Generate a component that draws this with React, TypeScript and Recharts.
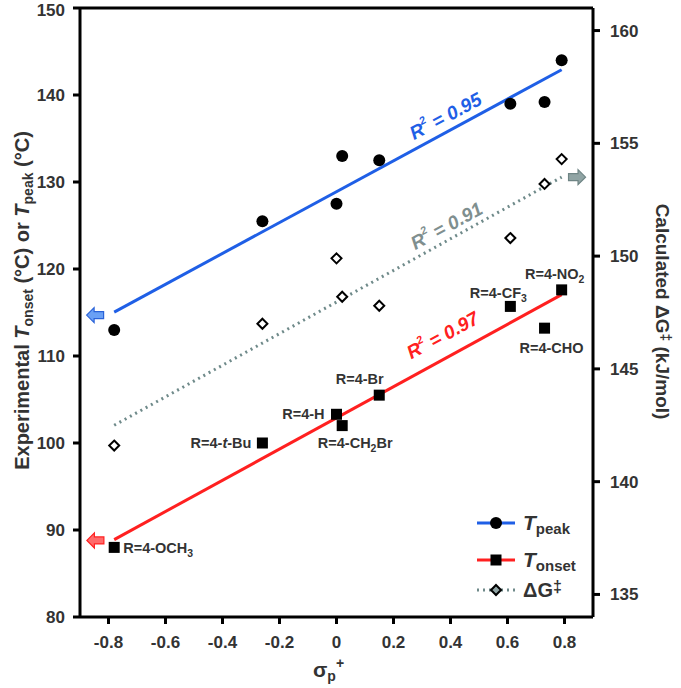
import React from "react";
import {
  ComposedChart,
  XAxis,
  YAxis,
  Line,
  Scatter,
  ReferenceLine,
  ReferenceDot,
  Legend,
  Label,
} from "recharts";

// sigma_p+ of each substituent
const sigma = [-0.78, -0.26, 0, 0.02, 0.15, 0.61, 0.73, 0.79];
const substituents = [
  "R=4-OCH_3",
  "R=4-*t*-Bu",
  "R=4-H",
  "R=4-CH_2Br",
  "R=4-Br",
  "R=4-CF_3",
  "R=4-CHO",
  "R=4-NO_2",
];
const tPeak = [113.0, 125.5, 127.5, 133.0, 132.5, 139.0, 139.2, 144.0];
const tOnset = [88.0, 100.0, 103.3, 102.0, 105.5, 115.7, 113.2, 117.6];
const deltaG = [141.6, 147.0, 149.9, 148.2, 147.8, 150.8, 153.2, 154.3];

// linear fits, end points
const peakFit = [
  { x: -0.78, y: 115.05 },
  { x: 0.79, y: 142.9 },
];
const onsetFit = [
  { x: -0.78, y: 88.9 },
  { x: 0.79, y: 117.05 },
];
const deltaGFit = [
  { x: -0.78, y: 142.5 },
  { x: 0.79, y: 153.5 },
];

const xTicks = [-0.8, -0.6, -0.4, -0.2, 0, 0.2, 0.4, 0.6, 0.8];
const leftTicks = [80, 90, 100, 110, 120, 130, 140, 150];
const rightTicks = [135, 140, 145, 150, 155, 160];

const peakPoints = sigma.map((x, i) => ({ x, y: tPeak[i] }));
const onsetPoints = sigma.map((x, i) => ({ x, y: tOnset[i], name: substituents[i] }));
const deltaGPoints = sigma.map((x, i) => ({ x, y: deltaG[i] }));

const FONT = "'Liberation Sans', Arial, sans-serif";
const TEXT = "#333";
const BLUE = "#1f5fe6";
const RED = "#ff2020";
const GRAY = "#6f8a8a";

// where each substituent label sits relative to its square
const labelPlace: Record<string, { dx: number; dy: number; anchor: "start" | "middle" | "end" }> = {
  "R=4-OCH_3": { dx: 9, dy: 1, anchor: "start" },
  "R=4-*t*-Bu": { dx: -11, dy: 0, anchor: "end" },
  "R=4-H": { dx: -12, dy: 0, anchor: "end" },
  "R=4-CH_2Br": { dx: 13, dy: 17.5, anchor: "middle" },
  "R=4-Br": { dx: -19.5, dy: -16.5, anchor: "middle" },
  "R=4-CF_3": { dx: -12, dy: -13, anchor: "middle" },
  "R=4-CHO": { dx: 7, dy: 20, anchor: "middle" },
  "R=4-NO_2": { dx: -7, dy: -16, anchor: "middle" },
};

// "_" = next char subscript, "*" toggles italic
function richText(s: string, size: number) {
  const out: React.ReactNode[] = [];
  let italic = false;
  let buf = "";
  let k = 0;
  let lowered = false;
  const flush = () => {
    if (!buf) return;
    out.push(
      <tspan key={k++} fontStyle={italic ? "italic" : "normal"} dy={lowered ? -4 : 0}>
        {buf}
      </tspan>
    );
    lowered = false;
    buf = "";
  };
  for (let i = 0; i < s.length; i++) {
    const c = s[i];
    if (c === "*") {
      flush();
      italic = !italic;
    } else if (c === "_") {
      flush();
      out.push(
        <tspan key={k++} fontSize={size * 0.72} dy={4}>
          {s[i + 1]}
        </tspan>
      );
      lowered = true;
      i++;
    } else {
      buf += c;
    }
  }
  flush();
  return out;
}

const Circle = (p: any) => <circle cx={p.cx} cy={p.cy} r={6} fill="#000" />;

const Diamond = (p: any) => (
  <polygon
    points={`${p.cx},${p.cy - 5} ${p.cx + 5},${p.cy} ${p.cx},${p.cy + 5} ${p.cx - 5},${p.cy}`}
    fill="#fff"
    stroke="#000"
    strokeWidth={2}
  />
);

const SquareWithLabel = (p: any) => {
  const name = p.payload?.name as string;
  const pl = labelPlace[name];
  return (
    <g>
      <rect x={p.cx - 5.5} y={p.cy - 5.5} width={11} height={11} fill="#000" />
      {pl && (
        <text
          x={p.cx + pl.dx}
          y={p.cy + pl.dy + 5}
          textAnchor={pl.anchor}
          fontSize={14.5}
          fontWeight={700}
          fill={TEXT}
          fontFamily={FONT}
        >
          {richText(name, 14.5)}
        </text>
      )}
    </g>
  );
};

// dir -1 points left, 1 points right
const arrow = (dir: 1 | -1, fill: string, stroke: string) => (p: any) => {
  const { cx, cy } = p;
  const pts = [
    [-8.5, 0],
    [-1, -7.5],
    [-1, -3.5],
    [8.5, -3.5],
    [8.5, 3.5],
    [-1, 3.5],
    [-1, 7.5],
  ]
    .map(([a, b]) => `${cx - a * dir},${cy + b}`)
    .join(" ");
  return <polygon points={pts} fill={fill} stroke={stroke} strokeWidth={1.2} />;
};

const r2Label = (text: string, color: string, angle: number) => (p: any) => (
  <text
    x={p.cx}
    y={p.cy}
    textAnchor="middle"
    dominantBaseline="central"
    transform={`rotate(${angle} ${p.cx} ${p.cy})`}
    fontSize={19}
    fontWeight={700}
    fontStyle="italic"
    fill={color}
    fontFamily={FONT}
  >
    R<tspan fontSize={11} dy={-7}>2</tspan>
    <tspan dy={7}>{` = ${text}`}</tspan>
  </text>
);

const renderLegend = () => (
  <svg width={130} height={100} style={{ fontFamily: FONT }}>
    <line x1={7} x2={45} y1={18} y2={18} stroke={BLUE} strokeWidth={3} />
    <circle cx={26} cy={18} r={6} fill="#000" />
    <text x={53} y={25} fontSize={21} fontWeight={700} fill={TEXT}>
      <tspan fontStyle="italic">T</tspan>
      <tspan fontSize={15} dy={4}>peak</tspan>
    </text>
    <line x1={7} x2={45} y1={55} y2={55} stroke={RED} strokeWidth={3} />
    <rect x={20.5} y={49.5} width={11} height={11} fill="#000" />
    <text x={53} y={62} fontSize={21} fontWeight={700} fill={TEXT}>
      <tspan fontStyle="italic">T</tspan>
      <tspan fontSize={15} dy={4}>onset</tspan>
    </text>
    <line x1={7} x2={45} y1={85} y2={85} stroke={GRAY} strokeWidth={3} strokeDasharray="2 4" />
    <polygon points="26,80 31,85 26,90 21,85" fill="#8fa3a3" stroke="#000" strokeWidth={2} />
    <text x={53} y={92} fontSize={20} fontWeight={700} fill={TEXT}>
      ΔG<tspan fontSize={16} dy={-5}>‡</tspan>
    </text>
  </svg>
);

const tickStyle = { fill: TEXT, fontSize: 17, fontWeight: 700, fontFamily: FONT };
const axisLine = { stroke: "#000", strokeWidth: 3 };

export default function App() {
  return (
    <div style={{ position: "absolute", left: 0, top: 0 }}>
      <ComposedChart
        width={681}
        height={688}
        margin={{ top: 8, right: 0, bottom: 0, left: 0 }}
        style={{ fontFamily: FONT }}
      >
        <XAxis
          type="number"
          dataKey="x"
          domain={[-0.9, 0.9]}
          ticks={xTicks}
          allowDataOverflow
          height={71}
          tick={tickStyle}
          tickSize={7}
          tickMargin={12}
          axisLine={axisLine}
          tickLine={axisLine}
        >
          <Label
            content={(props: any) => {
              const vb = props.viewBox;
              const cx = vb.x + vb.width / 2;
              return (
                <text x={cx - 8} y={677} textAnchor="middle" fontSize={21} fontWeight={700} fill={TEXT} fontFamily={FONT}>
                  σ<tspan fontSize={14} dy={4}>p</tspan>
                  <tspan fontSize={14} dy={-13}>+</tspan>
                </text>
              );
            }}
          />
        </XAxis>
        <YAxis
          yAxisId="left"
          dataKey="y"
          domain={[80, 150]}
          ticks={leftTicks}
          allowDataOverflow
          width={80}
          tick={tickStyle}
          tickSize={7}
          tickMargin={8}
          axisLine={axisLine}
          tickLine={axisLine}
        >
          <Label
            content={(props: any) => {
              const vb = props.viewBox;
              const x = 29;
              const y = vb.y + vb.height / 2 - 12;
              return (
                <text
                  x={x}
                  y={y}
                  textAnchor="middle"
                  transform={`rotate(-90 ${x} ${y})`}
                  fontSize={20}
                  fontWeight={700}
                  fill={TEXT}
                  fontFamily={FONT}
                >
                  Experimental <tspan fontStyle="italic">T</tspan>
                  <tspan fontSize={14} dy={4}>onset</tspan>
                  <tspan dy={-4}> (°C) or </tspan>
                  <tspan fontStyle="italic">T</tspan>
                  <tspan fontSize={14} dy={4}>peak</tspan>
                  <tspan dy={-4}> (°C)</tspan>
                </text>
              );
            }}
          />
        </YAxis>
        <YAxis
          yAxisId="right"
          orientation="right"
          dataKey="y"
          domain={[134, 161]}
          ticks={rightTicks}
          allowDataOverflow
          width={88}
          tick={tickStyle}
          tickSize={7}
          tickMargin={10}
          axisLine={axisLine}
          tickLine={axisLine}
        >
          <Label
            content={(props: any) => {
              const vb = props.viewBox;
              const x = 656;
              const y = vb.y + vb.height / 2 - 1;
              return (
                <text
                  x={x}
                  y={y}
                  textAnchor="middle"
                  transform={`rotate(90 ${x} ${y})`}
                  fontSize={19}
                  fontWeight={700}
                  fill={TEXT}
                  fontFamily={FONT}
                >
                  Calculated ΔG<tspan fontSize={14} dy={-5}>‡</tspan>
                  <tspan dy={5}> (kJ/mol)</tspan>
                </text>
              );
            }}
          />
        </YAxis>

        <ReferenceLine yAxisId="left" y={150} stroke="#000" strokeWidth={3} />

        <Line data={peakFit} dataKey="y" yAxisId="left" stroke={BLUE} strokeWidth={3} dot={false} isAnimationActive={false} legendType="none" />
        <Line data={onsetFit} dataKey="y" yAxisId="left" stroke={RED} strokeWidth={3} dot={false} isAnimationActive={false} legendType="none" />
        <Line
          data={deltaGFit}
          dataKey="y"
          yAxisId="right"
          stroke={GRAY}
          strokeWidth={3}
          strokeDasharray="2 4"
          dot={false}
          isAnimationActive={false}
          legendType="none"
        />

        <Scatter data={peakPoints} dataKey="y" yAxisId="left" shape={Circle} isAnimationActive={false} legendType="none" />
        <Scatter data={deltaGPoints} dataKey="y" yAxisId="right" shape={Diamond} isAnimationActive={false} legendType="none" />
        <Scatter data={onsetPoints} dataKey="y" yAxisId="left" shape={SquareWithLabel} isAnimationActive={false} legendType="none" />

        <ReferenceDot yAxisId="left" x={-0.847} y={114.7} shape={arrow(-1, "#6aa0f5", "#2a62d8")} />
        <ReferenceDot yAxisId="left" x={-0.846} y={88.8} shape={arrow(-1, "#ff6a6a", "#ff2020")} />
        <ReferenceDot yAxisId="right" x={0.844} y={153.5} shape={arrow(1, "#90a4a4", "#6f8585")} />

        <ReferenceDot yAxisId="left" x={0.382} y={137.6} shape={r2Label("0.95", BLUE, -28.3)} />
        <ReferenceDot yAxisId="right" x={0.386} y={151.35} shape={r2Label("0.91", "#7f8f8f", -28.9)} />
        <ReferenceDot yAxisId="left" x={0.372} y={112.4} shape={r2Label("0.97", RED, -28.6)} />

        <Legend
          layout="vertical"
          align="center"
          verticalAlign="middle"
          content={renderLegend}
          wrapperStyle={{ left: 470, top: 505, width: 130, height: 100 }}
        />
      </ComposedChart>
    </div>
  );
}
